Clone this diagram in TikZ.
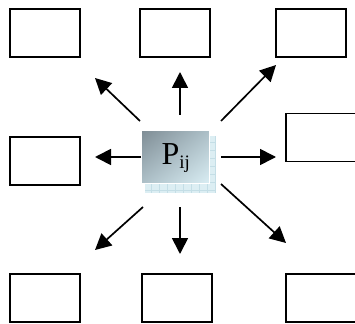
\documentclass[tikz,border=0pt]{standalone}
\usepackage{fontspec}
\setmainfont{Liberation Serif}
\usetikzlibrary{arrows.meta,shadings}
\definecolor{gridblue}{HTML}{DCEEF3}
\definecolor{gridline}{HTML}{C4DEE6}
\definecolor{shadeA}{HTML}{7E8C94}
\definecolor{shadeB}{HTML}{D9EDF3}
\definecolor{shadeM}{HTML}{ACBFC7}
\tikzset{
  cell/.style={draw=black, line width=1.3pt, fill=white, inner sep=0pt,
    minimum width=70pt, minimum height=48pt},
  arr/.style={line width=1.7pt, -{Triangle[length=16pt,width=16pt]}},
}
\begin{document}
\begin{tikzpicture}[x=1pt,y=-1pt]
\useasboundingbox (0,0) rectangle (355,323);
\fill[white] (0,0) rectangle (355,323);

% surrounding cells
\node[cell] (tl) at (45,33) {};
\node[cell] (tm) at (175,33) {};
\node[cell] (tr) at (311,33) {};
\node[cell] (ml) at (45,161) {};
\node[cell] (mr) at (321,137.5) {};
\node[cell] (bl) at (45,298) {};
\node[cell] (bm) at (177,298) {};
\node[cell] (br) at (321,298) {};

% grid-patterned backing square behind the centre cell
\fill[gridblue] (145,136) rectangle (216,193);
\begin{scope}
  \clip (145,136) rectangle (216,193);
  \foreach \x in {151,159,...,216} \draw[gridline, line width=0.4pt] (\x,136) -- (\x,193);
  \foreach \y in {142,150,...,193} \draw[gridline, line width=0.4pt] (145,\y) -- (216,\y);
\end{scope}

% shaded centre cell
\shade[upper left=shadeA, lower right=shadeB, upper right=shadeM, lower left=shadeM]
  (141,130) rectangle (209,183);
\draw[white, line width=0.8pt] (141,130) rectangle (209,183);
\node[font=\fontsize{32}{32}\selectfont, inner sep=0pt] (p) at (176,158) {P\textsubscript{\fontsize{19}{19}\selectfont ij}};

% connector end points
\coordinate (su) at (180,115);  \coordinate (eu) at (180,72);
\coordinate (sul) at (140,121); \coordinate (eul) at (95,78);
\coordinate (sur) at (221,121); \coordinate (eur) at (276,65);
\coordinate (sl) at (141,157);  \coordinate (el) at (95,157);
\coordinate (sr) at (221,157);  \coordinate (er) at (276,157);
\coordinate (sdl) at (143,207); \coordinate (edl) at (95,250);
\coordinate (sd) at (180,207);  \coordinate (ed) at (180,254);
\coordinate (sdr) at (221,184); \coordinate (edr) at (286,243);

\draw[arr] (su) -- (eu);
\draw[arr] (sul) -- (eul);
\draw[arr] (sur) -- (eur);
\draw[arr] (sl) -- (el);
\draw[arr] (sr) -- (er);
\draw[arr] (sdl) -- (edl);
\draw[arr] (sd) -- (ed);
\draw[arr] (sdr) -- (edr);
\end{tikzpicture}
\end{document}
